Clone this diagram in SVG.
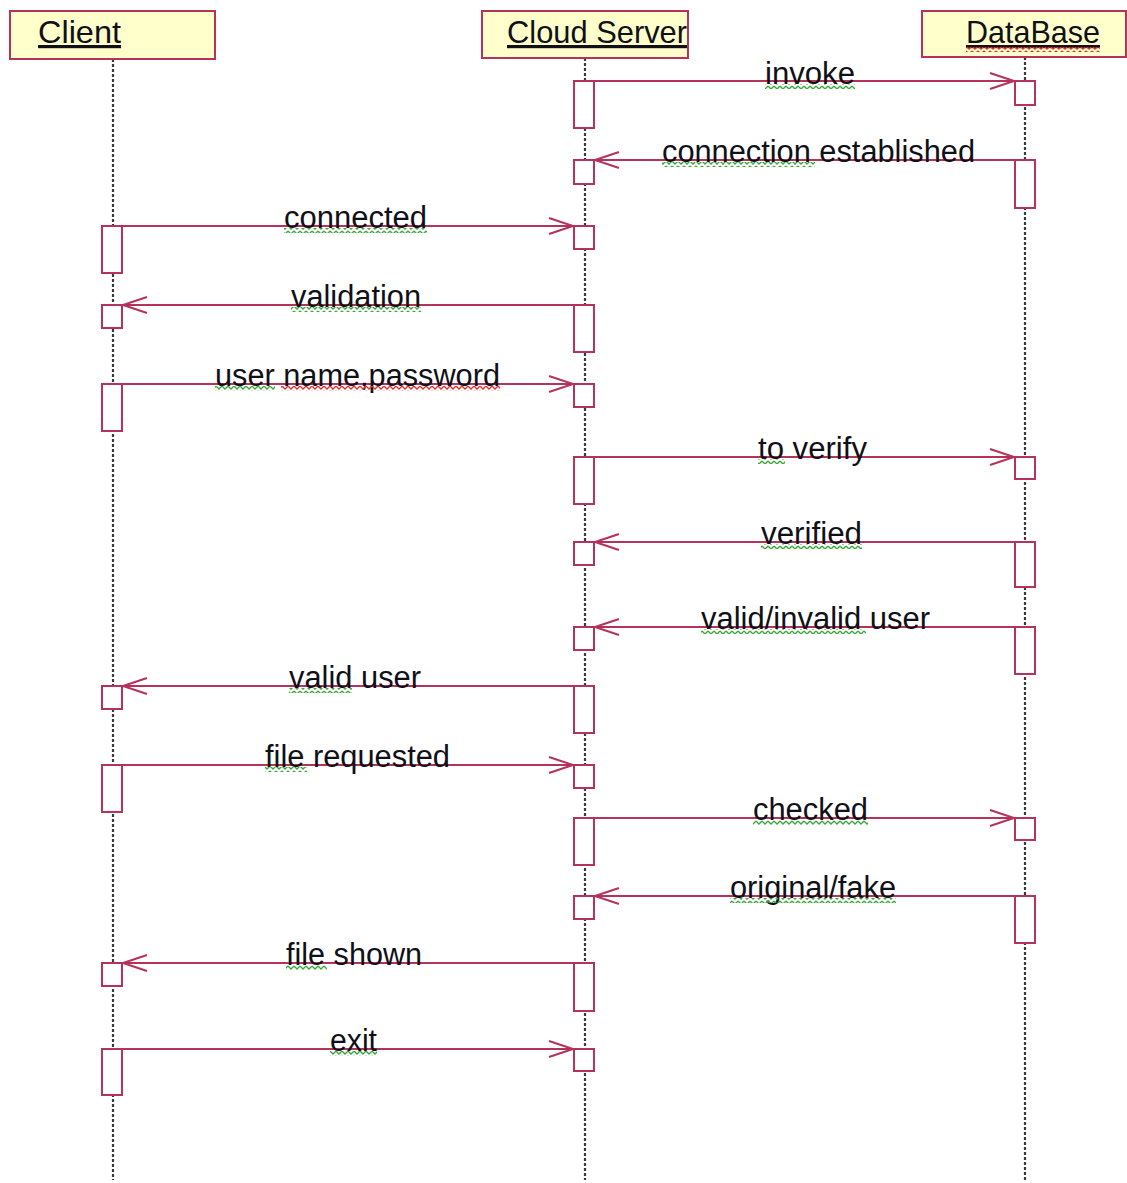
<svg xmlns="http://www.w3.org/2000/svg" width="1127" height="1183" viewBox="0 0 1127 1183">
<style>
.bg{fill:#ffffff}
.head{fill:#ffffcc;stroke:#b5325a;stroke-width:2}
.htxt{font-family:"Liberation Sans",Arial,sans-serif;font-size:32px;fill:#101018;text-decoration:underline}
.life{stroke:#3a3a3a;stroke-width:2.2;stroke-dasharray:3 2;fill:none}
.act{fill:#ffffff;stroke:#b5325a;stroke-width:2}
.msg{stroke:#b5325a;stroke-width:2;fill:none}
.lbl{font-family:"Liberation Sans",Arial,sans-serif;font-size:31px;fill:#101018}
.sqg{fill:url(#zg)}
.sqr{fill:url(#zr)}
</style>
<defs>
<marker id="arr" markerUnits="userSpaceOnUse" markerWidth="30" markerHeight="20" viewBox="-26 -10 30 20" refX="0" refY="0" orient="auto">
<path d="M-24,-8 L0,0 L-24,8" fill="none" stroke="#b5325a" stroke-width="2"/>
</marker>
<pattern id="zg" patternUnits="userSpaceOnUse" width="6" height="5">
<path d="M0,1 L3,4 L6,1" fill="none" stroke="#3aa83a" stroke-width="1.3"/>
</pattern>
<pattern id="zr" patternUnits="userSpaceOnUse" width="6" height="5">
<path d="M0,1 L3,4 L6,1" fill="none" stroke="#e03030" stroke-width="1.3"/>
</pattern>
</defs>
<rect class="bg" x="0" y="0" width="1127" height="1183"/>

<g id="lifelines">
<line class="life" x1="113" y1="59" x2="113" y2="1180"/>
<line class="life" x1="585" y1="58" x2="585" y2="1180"/>
<line class="life" x1="1025" y1="57" x2="1025" y2="1180"/>
</g>

<g id="client">
<rect class="head" x="10" y="11" width="205" height="48"/>
<text class="htxt" x="38" y="43" textLength="83" lengthAdjust="spacingAndGlyphs">Client</text>
</g>
<g id="cloudserver">
<rect class="head" x="482" y="11" width="206" height="47"/>
<text class="htxt" x="507" y="43" textLength="180" lengthAdjust="spacingAndGlyphs">Cloud Server</text>
</g>
<g id="database">
<rect class="head" x="922" y="11" width="204" height="46"/>
<text class="htxt" x="966" y="43" textLength="134" lengthAdjust="spacingAndGlyphs">DataBase</text>
<rect class="sqr" x="966" y="47" width="134" height="5"/>
</g>

<g id="activations">
<rect class="act" x="574" y="81" width="20" height="47"/>
<rect class="act" x="1015" y="81" width="20" height="24"/>
<rect class="act" x="1015" y="160" width="20" height="48"/>
<rect class="act" x="574" y="160" width="20" height="24"/>
<rect class="act" x="102" y="226" width="20" height="47"/>
<rect class="act" x="574" y="226" width="20" height="23"/>
<rect class="act" x="574" y="305" width="20" height="47"/>
<rect class="act" x="102" y="305" width="20" height="23"/>
<rect class="act" x="102" y="384" width="20" height="47"/>
<rect class="act" x="574" y="384" width="20" height="23"/>
<rect class="act" x="574" y="457" width="20" height="47"/>
<rect class="act" x="1015" y="457" width="20" height="22"/>
<rect class="act" x="1015" y="542" width="20" height="45"/>
<rect class="act" x="574" y="542" width="20" height="23"/>
<rect class="act" x="1015" y="627" width="20" height="47"/>
<rect class="act" x="574" y="627" width="20" height="23"/>
<rect class="act" x="574" y="686" width="20" height="47"/>
<rect class="act" x="102" y="686" width="20" height="23"/>
<rect class="act" x="102" y="765" width="20" height="47"/>
<rect class="act" x="574" y="765" width="20" height="23"/>
<rect class="act" x="574" y="818" width="20" height="47"/>
<rect class="act" x="1015" y="818" width="20" height="22"/>
<rect class="act" x="1015" y="896" width="20" height="47"/>
<rect class="act" x="574" y="896" width="20" height="23"/>
<rect class="act" x="574" y="963" width="20" height="48"/>
<rect class="act" x="102" y="963" width="20" height="23"/>
<rect class="act" x="102" y="1049" width="20" height="46"/>
<rect class="act" x="574" y="1049" width="20" height="22"/>
</g>

<g id="connectors">
<line class="msg" x1="594" y1="81" x2="1014" y2="81" marker-end="url(#arr)"/>
<line class="msg" x1="1015" y1="160" x2="595" y2="160" marker-end="url(#arr)"/>
<line class="msg" x1="122" y1="226" x2="573" y2="226" marker-end="url(#arr)"/>
<line class="msg" x1="574" y1="305" x2="123" y2="305" marker-end="url(#arr)"/>
<line class="msg" x1="122" y1="384" x2="573" y2="384" marker-end="url(#arr)"/>
<line class="msg" x1="594" y1="457" x2="1014" y2="457" marker-end="url(#arr)"/>
<line class="msg" x1="1015" y1="542" x2="595" y2="542" marker-end="url(#arr)"/>
<line class="msg" x1="1015" y1="627" x2="595" y2="627" marker-end="url(#arr)"/>
<line class="msg" x1="574" y1="686" x2="123" y2="686" marker-end="url(#arr)"/>
<line class="msg" x1="122" y1="765" x2="573" y2="765" marker-end="url(#arr)"/>
<line class="msg" x1="594" y1="818" x2="1014" y2="818" marker-end="url(#arr)"/>
<line class="msg" x1="1015" y1="896" x2="595" y2="896" marker-end="url(#arr)"/>
<line class="msg" x1="574" y1="963" x2="123" y2="963" marker-end="url(#arr)"/>
<line class="msg" x1="122" y1="1049" x2="573" y2="1049" marker-end="url(#arr)"/>
</g>

<g id="labels">
<text class="lbl" x="765" y="84" textLength="90" lengthAdjust="spacingAndGlyphs">invoke</text>
<rect class="sqg" x="765" y="84" width="90" height="5"/>
<text class="lbl" x="662" y="162" textLength="313" lengthAdjust="spacingAndGlyphs">connection established</text>
<rect class="sqg" x="662" y="162" width="153" height="5"/>
<text class="lbl" x="284" y="228" textLength="143" lengthAdjust="spacingAndGlyphs">connected</text>
<rect class="sqg" x="284" y="228" width="143" height="5"/>
<text class="lbl" x="291" y="307" textLength="130" lengthAdjust="spacingAndGlyphs">validation</text>
<rect class="sqg" x="291" y="307" width="130" height="5"/>
<text class="lbl" x="215" y="386" textLength="285" lengthAdjust="spacingAndGlyphs">user name,password</text>
<rect class="sqg" x="215" y="386" width="60" height="5"/>
<rect class="sqr" x="281" y="386" width="219" height="5"/>
<text class="lbl" x="758" y="459" textLength="109" lengthAdjust="spacingAndGlyphs">to verify</text>
<rect class="sqg" x="758" y="459" width="27" height="5"/>
<text class="lbl" x="761" y="544" textLength="101" lengthAdjust="spacingAndGlyphs">verified</text>
<rect class="sqg" x="761" y="544" width="101" height="5"/>
<text class="lbl" x="701" y="629" textLength="229" lengthAdjust="spacingAndGlyphs">valid/invalid user</text>
<rect class="sqg" x="701" y="629" width="165" height="5"/>
<text class="lbl" x="289" y="688" textLength="132" lengthAdjust="spacingAndGlyphs">valid user</text>
<rect class="sqg" x="289" y="688" width="63" height="5"/>
<text class="lbl" x="265" y="767" textLength="185" lengthAdjust="spacingAndGlyphs">file requested</text>
<rect class="sqg" x="265" y="767" width="42" height="5"/>
<text class="lbl" x="753" y="820" textLength="115" lengthAdjust="spacingAndGlyphs">checked</text>
<rect class="sqg" x="753" y="820" width="115" height="5"/>
<text class="lbl" x="730" y="898" textLength="166" lengthAdjust="spacingAndGlyphs">original/fake</text>
<rect class="sqg" x="730" y="898" width="166" height="5"/>
<text class="lbl" x="286" y="965" textLength="136" lengthAdjust="spacingAndGlyphs">file shown</text>
<rect class="sqg" x="286" y="965" width="41" height="5"/>
<text class="lbl" x="330" y="1051" textLength="47" lengthAdjust="spacingAndGlyphs">exit</text>
<rect class="sqg" x="330" y="1051" width="47" height="5"/>
</g>
</svg>
